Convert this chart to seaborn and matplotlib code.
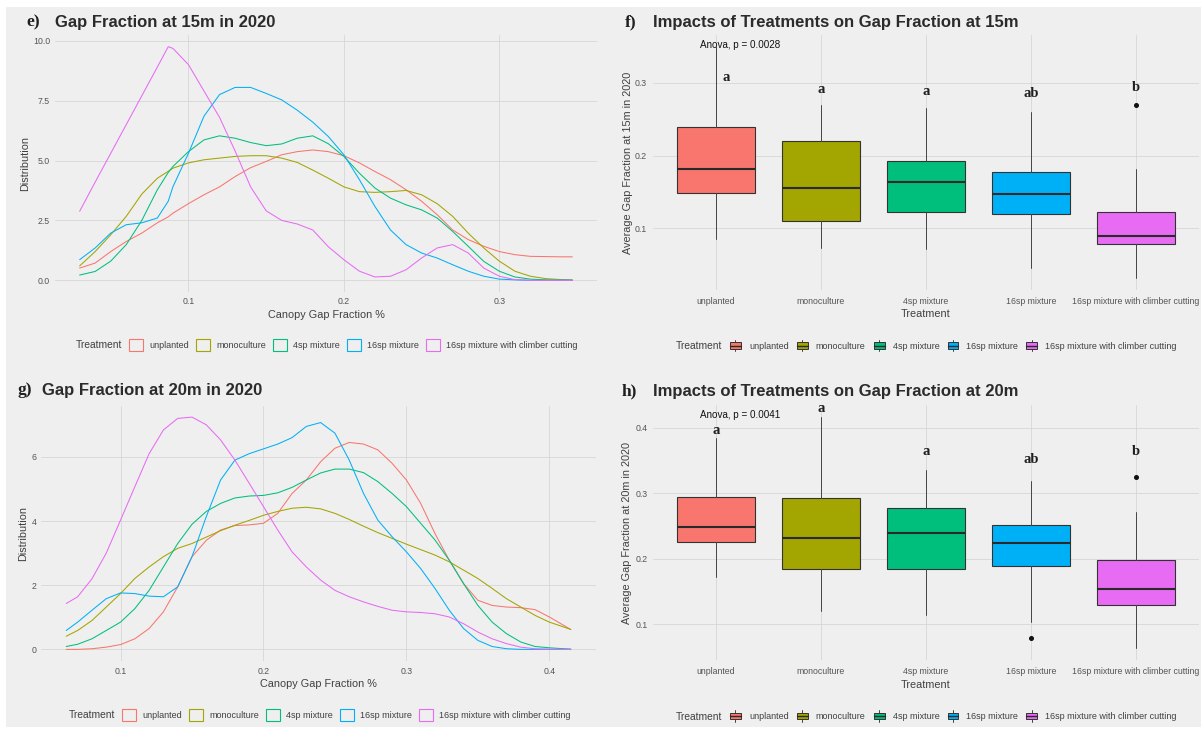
import matplotlib
matplotlib.use("Agg")
import matplotlib.pyplot as plt
import seaborn as sns
import pandas as pd
from matplotlib.patches import Patch, Rectangle
from matplotlib.lines import Line2D
from matplotlib.legend_handler import HandlerBase

# ---------------- data ----------------
treatments = ["unplanted", "monoculture", "4sp mixture", "16sp mixture",
              "16sp mixture with climber cutting"]
colors = ["#F8766D", "#A3A500", "#00BF7D", "#00B0F6", "#E76BF3"]

# density curves, 15 m
x_15 = [0.03, 0.04, 0.05, 0.06, 0.07, 0.08, 0.087, 0.09, 0.10, 0.11, 0.12, 0.13, 0.14,
        0.15, 0.16, 0.17, 0.18, 0.19, 0.20, 0.21, 0.22, 0.23, 0.24, 0.25, 0.26, 0.27,
        0.28, 0.29, 0.30, 0.31, 0.32, 0.33, 0.34, 0.347]
d15_unplanted = [0.51, 0.72, 1.2, 1.62, 1.97, 2.4, 2.65, 2.8, 3.2, 3.57, 3.9, 4.33, 4.7,
                 4.96, 5.24, 5.37, 5.44, 5.37, 5.2, 4.9, 4.54, 4.2, 3.78, 3.3, 2.74, 2.1,
                 1.7, 1.42, 1.2, 1.07, 1.0, 0.99, 0.98, 0.98]
d15_mono = [0.6, 1.2, 1.9, 2.67, 3.6, 4.26, 4.55, 4.68, 4.9, 5.03, 5.1, 5.17, 5.2,
            5.2, 5.1, 4.92, 4.6, 4.26, 3.9, 3.7, 3.67, 3.7, 3.75, 3.57, 3.2, 2.67,
            1.97, 1.35, 0.8, 0.38, 0.17, 0.07, 0.03, 0.02]
d15_4sp = [0.22, 0.37, 0.8, 1.49, 2.5, 3.78, 4.5, 4.75, 5.37, 5.86, 6.03, 5.93, 5.75,
           5.62, 5.69, 5.93, 6.03, 5.7, 5.17, 4.47, 3.85, 3.43, 3.15, 2.94, 2.6, 2.04,
           1.42, 0.79, 0.38, 0.14, 0.05, 0.02, 0.01, 0.0]
d15_16sp = [0.86, 1.35, 1.97, 2.32, 2.4, 2.6, 3.3, 3.9, 5.3, 6.85, 7.75, 8.05, 8.05,
            7.8, 7.53, 7.1, 6.6, 6.0, 5.24, 4.2, 3.08, 2.1, 1.49, 1.14, 0.93, 0.65,
            0.38, 0.17, 0.05, 0.02, 0.0, 0.0, 0.0, 0.0]
d15_climber = [2.88, 4.1, 5.3, 6.5, 7.7, 8.9, 9.75, 9.68, 9.0, 7.9, 6.8, 5.4, 3.9,
               2.9, 2.5, 2.35, 2.1, 1.4, 0.86, 0.38, 0.14, 0.17, 0.44, 0.93, 1.35, 1.49,
               1.14, 0.51, 0.17, 0.03, 0.0, 0.0, 0.0, 0.0]

# density curves, 20 m
x_20 = [0.062, 0.07, 0.08, 0.09, 0.10, 0.11, 0.12, 0.13, 0.14, 0.15, 0.16, 0.17, 0.18,
        0.19, 0.20, 0.21, 0.22, 0.23, 0.24, 0.25, 0.26, 0.27, 0.28, 0.29, 0.30, 0.31,
        0.32, 0.33, 0.34, 0.35, 0.36, 0.37, 0.38, 0.39, 0.40, 0.41, 0.415]
d20_unplanted = [0.0, 0.0, 0.02, 0.07, 0.15, 0.33, 0.65, 1.17, 1.95, 2.89, 3.4, 3.72, 3.86,
                 3.88, 3.93, 4.24, 4.86, 5.28, 5.85, 6.27, 6.45, 6.4, 6.22, 5.8, 5.28, 4.55,
                 3.61, 2.78, 2.05, 1.53, 1.37, 1.32, 1.3, 1.24, 1.01, 0.75, 0.62]
d20_mono = [0.41, 0.59, 0.9, 1.32, 1.74, 2.21, 2.57, 2.89, 3.15, 3.3, 3.5, 3.7, 3.87,
            4.02, 4.18, 4.3, 4.4, 4.43, 4.38, 4.24, 4.05, 3.84, 3.64, 3.46, 3.28, 3.11,
            2.94, 2.73, 2.47, 2.21, 1.9, 1.58, 1.32, 1.06, 0.85, 0.7, 0.62]
d20_4sp = [0.09, 0.16, 0.33, 0.59, 0.85, 1.27, 1.84, 2.57, 3.3, 3.9, 4.3, 4.55, 4.72,
           4.78, 4.8, 4.88, 5.05, 5.28, 5.5, 5.62, 5.62, 5.51, 5.23, 4.86, 4.45, 3.93,
           3.41, 2.78, 2.05, 1.37, 0.85, 0.49, 0.23, 0.09, 0.05, 0.02, 0.01]
d20_16sp = [0.59, 0.85, 1.22, 1.58, 1.76, 1.74, 1.66, 1.64, 1.95, 2.89, 4.14, 5.28, 5.9,
            6.1, 6.25, 6.4, 6.6, 6.95, 7.07, 6.74, 5.9, 4.86, 4.03, 3.51, 3.04, 2.52,
            1.9, 1.22, 0.65, 0.28, 0.09, 0.02, 0.0, 0.0, 0.0, 0.0, 0.0]
d20_climber = [1.43, 1.64, 2.2, 3.0, 4.03, 5.07, 6.1, 6.84, 7.2, 7.24, 7.0, 6.53, 5.9,
               5.18, 4.45, 3.72, 3.04, 2.57, 2.16, 1.84, 1.64, 1.48, 1.34, 1.22, 1.17, 1.15,
               1.11, 1.01, 0.8, 0.54, 0.33, 0.18, 0.07, 0.02, 0.01, 0.0, 0.0]

# box plot statistics, 15 m
b15_low = [0.085, 0.073, 0.072, 0.045, 0.031]
b15_q1 = [0.149, 0.110, 0.123, 0.120, 0.078]
b15_med = [0.182, 0.155, 0.164, 0.147, 0.089]
b15_q3 = [0.240, 0.220, 0.193, 0.178, 0.123]
b15_high = [0.350, 0.270, 0.265, 0.260, 0.181]
b15_out = [[], [], [], [], [0.269]]
b15_letters = ["a", "a", "a", "ab", "b"]
b15_letter_y = [0.307, 0.291, 0.288, 0.286, 0.294]
b15_letter_dx = [0.1, 0.0, 0.0, 0.0, 0.0]
b15_anova = "Anova, p = 0.0028"
b15_anova_y = 0.352

# box plot statistics, 20 m
b20_low = [0.172, 0.120, 0.114, 0.1035, 0.063]
b20_q1 = [0.226, 0.185, 0.184, 0.189, 0.130]
b20_med = [0.249, 0.231, 0.239, 0.224, 0.1535]
b20_q3 = [0.294, 0.293, 0.277, 0.252, 0.1985]
b20_high = [0.384, 0.417, 0.335, 0.319, 0.272]
b20_out = [[], [], [], [0.079], [0.325]]
b20_letters = ["a", "a", "a", "ab", "b"]
b20_letter_y = [0.3965, 0.429, 0.3636, 0.352, 0.3636]
b20_letter_dx = [0.0, 0.0, 0.0, 0.0, 0.0]
b20_anova = "Anova, p = 0.0041"
b20_anova_y = 0.42

ticks_e_x = [0.1, 0.2, 0.3]
ticks_e_y = [0.0, 2.5, 5.0, 7.5, 10.0]
ticks_e_ylab = ["0.0", "2.5", "5.0", "7.5", "10.0"]
ticks_g_x = [0.1, 0.2, 0.3, 0.4]
ticks_g_y = [0, 2, 4, 6]
ticks_f_y = [0.1, 0.2, 0.3]
ticks_h_y = [0.1, 0.2, 0.3, 0.4]

# ---------------- style ----------------
sns.set_theme(style="white")
plt.rcParams["font.family"] = ["Liberation Sans", "DejaVu Sans"]
BG = "#EFEFEF"
GRID = "#D6D6D6"
TICKC = "#555555"
LABC = "#404040"
palette = dict(zip(treatments, colors))

W, H = 1201, 734
fig = plt.figure(figsize=(W / 100, H / 100), dpi=100, facecolor="white")
fig.patches.append(Rectangle((6 / W, 1 - 727 / H), (W - 6) / W, 720 / H,
                             transform=fig.transFigure, facecolor=BG,
                             edgecolor="none", zorder=-10))


def make_ax(l, r, t, b):
    ax = fig.add_axes([l / W, 1 - b / H, (r - l) / W, (b - t) / H])
    ax.set_facecolor("none")
    for s in ax.spines.values():
        s.set_visible(False)
    ax.grid(True, color=GRID, lw=0.6)
    ax.set_axisbelow(True)
    return ax


def expand(lo, hi, f=0.05):
    d = (hi - lo) * f
    return lo - d, hi + d


def style_ticks(ax, xpad, ypad):
    ax.tick_params(axis="both", length=0, labelsize=6.3, labelcolor=TICKC)
    ax.tick_params(axis="x", pad=xpad)
    ax.tick_params(axis="y", pad=ypad)


def set_labels(ax, xl, yl, xy, yx):
    ax.set_xlabel(xl, fontsize=7.8, color=LABC)
    ax.set_ylabel(yl, fontsize=7.8, color=LABC)
    ax.xaxis.set_label_coords(0.5, xy)
    ax.yaxis.set_label_coords(yx, 0.5)
    ax.xaxis.label.set_va("center")
    ax.yaxis.label.set_va("center")


def density_panel(ax, xs, series, xt, yt, ytl):
    frames = []
    for name, vals in zip(treatments, series):
        frames.append(pd.DataFrame({"x": xs, "y": vals, "Treatment": name}))
    df = pd.concat(frames, ignore_index=True)
    sns.lineplot(data=df, x="x", y="y", hue="Treatment", hue_order=treatments,
                 palette=palette, estimator=None, sort=False, linewidth=0.75,
                 legend=False, ax=ax)
    ax.set_xlim(*expand(min(xs), max(xs)))
    ymax = max(max(v) for v in series)
    ax.set_ylim(*expand(0, ymax))
    ax.set_xticks(xt)
    ax.set_xticklabels([f"{v:.1f}" for v in xt])
    ax.set_yticks(yt)
    ax.set_yticklabels(ytl)


def box_panel(ax, low, q1, med, q3, high, outs, letters, ly, ldx, anova, ay, yt):
    stats = []
    for i in range(len(treatments)):
        stats.append(dict(whislo=low[i], q1=q1[i], med=med[i], q3=q3[i],
                          whishi=high[i], fliers=outs[i], label=treatments[i]))
    bp = ax.bxp(stats, positions=range(len(treatments)), widths=0.75,
                patch_artist=True, showcaps=False,
                boxprops=dict(edgecolor="#333333", linewidth=0.8),
                whiskerprops=dict(color="#444444", linewidth=0.7),
                medianprops=dict(color="#2a2a2a", linewidth=1.5),
                flierprops=dict(marker="o", markersize=2.6, markerfacecolor="#111111",
                                markeredgecolor="#111111"))
    for patch, c in zip(bp["boxes"], colors):
        patch.set_facecolor(c)
    ax.set_xlim(-0.6, len(treatments) - 0.4)
    lo = min(min(low), min(min(o) for o in outs if o))
    hi = max(max(high), max(max(o) for o in outs if o))
    ax.set_ylim(*expand(lo, hi))
    ax.set_yticks(yt)
    ax.set_yticklabels([f"{v:.1f}" for v in yt])
    ax.set_xticks(range(len(treatments)))
    ax.set_xticklabels(treatments)
    for i, (t, y, dx) in enumerate(zip(letters, ly, ldx)):
        ax.text(i + dx, y, t, ha="center", va="center", fontsize=10.5,
                fontweight="bold", family=["Liberation Serif", "DejaVu Serif"],
                color="#1f1f1f")
    ax.text(0.23, ay, anova, ha="center", va="center", fontsize=7.1, color="#111111")


class BoxKey(HandlerBase):
    def create_artists(self, legend, orig_handle, xdescent, ydescent, width, height,
                       fontsize, trans):
        x0, y0 = -xdescent, -ydescent
        cx = x0 + width / 2
        wl = Line2D([cx, cx], [y0 - 1, y0 + height + 1], color="#444444", lw=0.7,
                    transform=trans)
        rect = Rectangle((x0, y0 + height * 0.12), width, height * 0.76,
                         facecolor=orig_handle.get_facecolor(), edgecolor="#333333",
                         lw=0.7, transform=trans)
        md = Line2D([x0, x0 + width], [y0 + height / 2] * 2, color="#2a2a2a", lw=1.0,
                    transform=trans)
        return [wl, rect, md]


class OpenKey(HandlerBase):
    def create_artists(self, legend, orig_handle, xdescent, ydescent, width, height,
                       fontsize, trans):
        rect = Rectangle((-xdescent, -ydescent), width, height, facecolor="none",
                         edgecolor=orig_handle.get_edgecolor(), lw=0.8, transform=trans)
        return [rect]


def add_legend(handles, title_right, key_left, cy, hl, hh, htp, cs, hmap):
    fig.text(title_right / W, 1 - cy / H, "Treatment", ha="right", va="center",
             fontsize=7.4, color=LABC)
    fig.legend(handles=handles, labels=treatments, loc="center left",
               bbox_to_anchor=(key_left / W, 1 - cy / H), ncol=5, frameon=False,
               fontsize=6.5, handlelength=hl, handleheight=hh, handletextpad=htp,
               columnspacing=cs, borderpad=0, borderaxespad=0, labelcolor="#404040",
               handler_map=hmap)


def add_title(tag, tag_x, title, title_x, cy):
    fig.text(tag_x / W, 1 - cy / H, tag, ha="left", va="center", fontsize=12.5,
             fontweight="bold", family=["Liberation Serif", "DejaVu Serif"], color="#1f1f1f")
    fig.text(title_x / W, 1 - cy / H, title, ha="left", va="center", fontsize=12,
             fontweight="bold", color="#2b2b2b")


def dens_handles():
    return [Patch(facecolor="none", edgecolor=c) for c in colors]


def box_handles():
    return [Patch(facecolor=c, edgecolor="#333333") for c in colors]


# ---------------- panel e ----------------
ax_e = make_ax(55, 597, 35, 292)
density_panel(ax_e, x_15, [d15_unplanted, d15_mono, d15_4sp, d15_16sp, d15_climber],
              ticks_e_x, ticks_e_y, ticks_e_ylab)
style_ticks(ax_e, 3.5, 3.6)
set_labels(ax_e, "Canopy Gap Fraction %", "Distribution", -0.0895, -0.0554)
add_title("e)", 26, "Gap Fraction at 15m in 2020", 55, 22.5)
add_legend(dens_handles(), 122, 129, 345, 1.55, 1.55, 0.67, 0.8, {Patch: OpenKey()})

# ---------------- panel f ----------------
ax_f = make_ax(653, 1199, 35, 290)
box_panel(ax_f, b15_low, b15_q1, b15_med, b15_q3, b15_high, b15_out, b15_letters,
          b15_letter_y, b15_letter_dx, b15_anova, b15_anova_y, ticks_f_y)
style_ticks(ax_f, 5.0, 4.5)
set_labels(ax_f, "Treatment", "Average Gap Fraction at 15m in 2020", -0.094, -0.0458)
add_title("f)", 625, "Impacts of Treatments on Gap Fraction at 15m", 653, 22.5)
add_legend(box_handles(), 722, 730, 346, 1.2, 1.05, 0.9, 0.9, {Patch: BoxKey()})

# ---------------- panel g ----------------
ax_g = make_ax(41, 596, 405.5, 661)
density_panel(ax_g, x_20, [d20_unplanted, d20_mono, d20_4sp, d20_16sp, d20_climber],
              ticks_g_x, ticks_g_y, [str(v) for v in ticks_g_y])
style_ticks(ax_g, 4.0, 3.1)
set_labels(ax_g, "Canopy Gap Fraction %", "Distribution", -0.089, -0.0324)
add_title("g)", 17, "Gap Fraction at 20m in 2020", 42, 390)
add_legend(dens_handles(), 115, 122, 715, 1.55, 1.55, 0.67, 0.8, {Patch: OpenKey()})

# ---------------- panel h ----------------
ax_h = make_ax(653, 1199, 405, 660)
box_panel(ax_h, b20_low, b20_q1, b20_med, b20_q3, b20_high, b20_out, b20_letters,
          b20_letter_y, b20_letter_dx, b20_anova, b20_anova_y, ticks_h_y)
style_ticks(ax_h, 5.4, 3.6)
set_labels(ax_h, "Treatment", "Average Gap Fraction at 20m in 2020", -0.098, -0.0476)
add_title("h)", 622, "Impacts of Treatments on Gap Fraction at 20m", 653, 391.5)
add_legend(box_handles(), 722, 730, 716.5, 1.2, 1.05, 0.9, 0.9, {Patch: BoxKey()})

fig.savefig("out.png", dpi=100, facecolor="white")
